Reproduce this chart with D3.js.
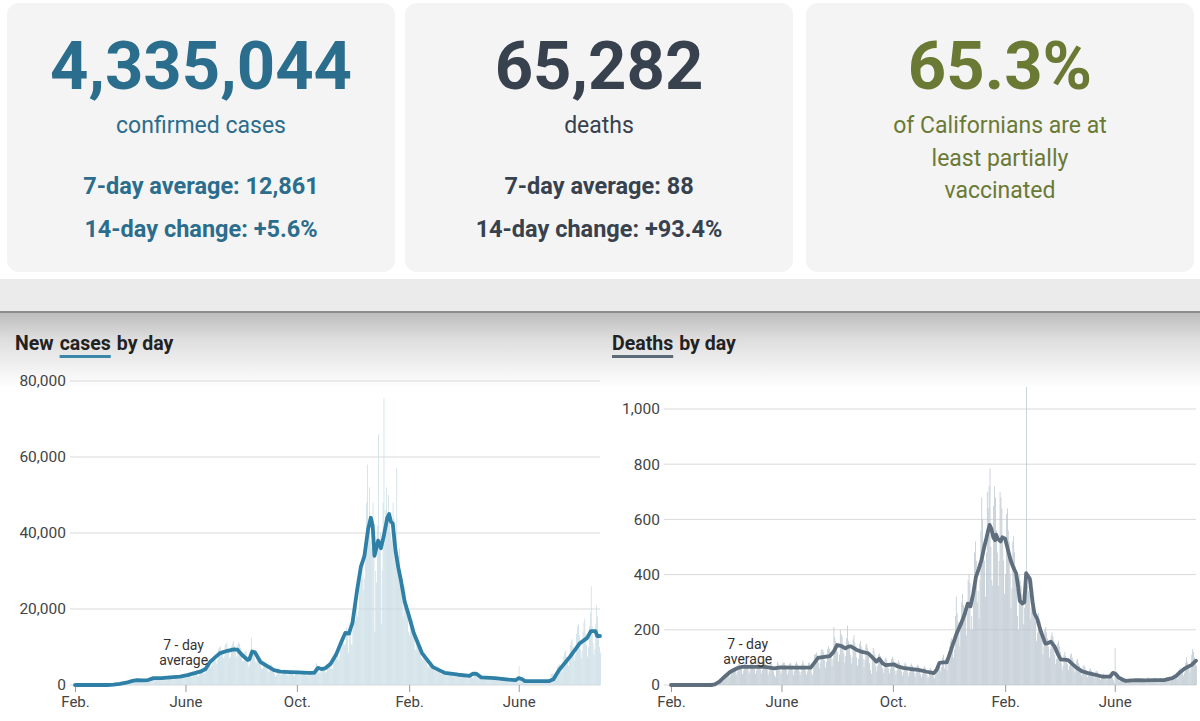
<!DOCTYPE html>
<html>
<head>
<meta charset="utf-8">
<script src="https://cdn.jsdelivr.net/npm/d3@7"></script>
<style>
  body { margin: 0; background: #fff; }
  svg { display: block; font-family: Roboto, "Open Sans", sans-serif; }
</style>
</head>
<body>
<div id="chart"></div>
<script>
// ---- summary cards ----
const cardBig = ["4,335,044", "65,282", "65.3%"];
const cardSub = [["confirmed cases"], ["deaths"], ["of Californians are at", "least partially", "vaccinated"]];
const cardStats = [["7-day average: 12,861", "14-day change: +5.6%"], ["7-day average: 88", "14-day change: +93.4%"], []];

// ---- x axis (days since Feb. 1, 2020) ----
const tickDays = [0, 121, 243, 366, 486];
const tickLabels = ["Feb.", "June", "Oct.", "Feb.", "June"];

// ---- new cases by day, in thousands (Feb. 1, 2020 -> Aug. 29, 2021) ----
const casesDaily = [
  0,0,0,0,0,0,0, 0,0,0,0,0,0,0, 0,0,0,0,0,0,0, 0,0,0,0,0,0,0,
  0,0,0,0,0,0,0, 0.01,0.02,0.02,0.03,0.05,0.05,0.06,
  0.08,0.06,0.1,0.13,0.15,0.17,0.15, 0.25,0.2,0.3,0.4,0.45,0.5,0.5,
  0.6,0.5,0.55,0.8,0.9,1.0,0.9, 1.1,0.9,0.8,1.2,1.3,1.3,1.2,
  1.3,1.0,1.0,1.4,1.5,1.6,1.4, 1.2,0.9,1.0,1.4,1.5,1.5,1.4,
  1.6,1.2,1.3,1.7,1.9,1.9,1.7, 1.7,1.4,1.3,1.9,2.0,2.2,1.9,
  1.7,1.3,1.2,1.8,1.9,2.2,1.8, 1.9,1.5,1.4,2.1,2.2,2.3,2.1,
  2.2,1.7,1.6,2.2,2.5,2.6,2.3, 2.5,1.9,1.8,2.7,2.9,2.8,2.6,
  2.8,2.1,2.0,3.0,3.2,3.3,3.0, 3.2,2.5,2.3,3.4,3.6,3.8,3.4,
  3.8,3.0,3.2,4.5,4.8,5.0,4.4, 5.9,4.5,5.0,6.8,7.2,6.9,6.3,
  6.5,5.5,6.8,9.5,9.8,10.2,8.6, 9.0,7.1,7.5,10.5,10.8,11.2,9.5,
  8.7,7.0,7.4,10.2,11.0,11.6,10.3, 9.2,7.3,7.6,10.6,11.2,10.9,9.8,
  8.4,6.4,6.2,8.5,8.8,9.1,7.6, 6.2,4.8,5.4,7.0,12.4,8.8,9.3,
  8.0,6.2,5.8,7.2,6.5,6.4,6.0, 5.6,4.4,4.3,5.8,6.1,5.9,5.5,
  4.7,3.8,3.6,5.0,5.4,5.3,4.8, 3.9,3.0,2.2,2.6,3.8,4.4,4.0,
  3.5,2.7,2.6,3.8,4.0,4.1,3.6, 3.4,2.7,2.5,3.6,3.9,3.9,3.5,
  3.3,2.6,2.4,3.5,3.8,3.8,3.4, 3.3,2.6,2.5,3.5,3.7,3.8,3.4,
  3.1,2.5,2.4,3.4,3.6,3.8,3.3, 3.2,2.6,2.6,3.8,4.6,5.8,4.4,
  4.2,3.2,3.3,4.5,4.8,5.0,4.6, 4.1,3.3,3.5,4.6,5.0,5.2,4.9,
  5.3,4.2,4.4,5.8,6.5,7.6,6.9, 8.0,6.5,7.2,9.3,9.8,11.0,10.8,
  13.5,10.5,11.0,15.2,14.0,8.5,13.0, 15.0,10.8,10.5,14.5,17.2,18.5,16.8,
  23.0,18.0,19.5,26.0,28.5,30.5,28.0, 32.5,25.0,28.0,36.0,48.0,58.0,40.0,
  52.0,38.0,36.0,40.0,48.0,38.0,14.0, 30.0,27.0,42.0,66.0,38.0,40.0,16.0,
  30.0,48.0,75.5,40.0,46.0,52.0,44.0, 50.0,44.0,40.0,38.0,42.0,48.0,44.0,
  40.0,35.0,57.0,30.0,34.0,36.0,28.0, 28.0,22.0,18.0,24.0,26.0,22.0,20.0,
  19.0,14.0,13.0,15.5,16.0,17.0,15.0, 13.0,9.5,9.0,12.0,11.5,10.5,10.0,
  9.0,7.0,6.5,7.5,8.0,8.5,7.5, 6.5,4.8,4.5,5.6,6.2,6.0,5.2,
  4.8,3.8,3.6,4.6,5.0,4.8,4.2, 4.0,3.0,2.9,3.8,4.0,3.9,3.5,
  3.4,2.6,2.5,3.2,3.5,3.4,3.0, 3.0,2.3,2.2,2.9,3.1,3.0,2.7,
  2.7,2.1,2.0,2.8,2.9,2.9,2.6, 2.6,1.9,1.8,2.6,2.8,2.8,2.5,
  2.4,1.9,1.9,2.6,3.5,3.8,3.2, 3.0,2.2,2.0,2.4,2.5,2.3,2.0,
  2.1,1.6,1.6,2.1,2.3,2.2,2.0, 1.9,1.5,1.4,2.0,2.1,2.1,1.9,
  1.8,1.4,1.3,1.9,2.0,2.0,1.8, 1.6,1.3,1.2,1.7,1.8,1.8,1.6,
  1.5,1.1,1.0,1.5,1.6,1.6,1.4, 1.3,1.0,0.6,5.0,1.9,1.6,1.4,
  1.2,0.9,0.8,1.2,1.3,1.3,1.1, 1.0,0.8,0.7,1.1,1.2,1.1,0.6,
  0.9,0.7,0.8,1.1,1.2,1.2,1.0, 1.0,0.8,0.8,1.2,1.3,1.3,1.1,
  0.8,0.5,0.6,2.8,3.0,3.2,2.6, 2.8,2.0,2.5,4.8,5.2,5.5,4.6,
  4.5,3.5,4.5,7.5,8.5,9.0,7.5, 6.5,5.0,6.5,10.5,11.5,12.0,10.0,
  8.5,6.5,8.0,13.5,15.5,16.0,13.0, 9.5,7.0,9.0,14.0,16.5,17.5,13.5,
  10.5,7.5,10.0,15.5,19.0,26.0,15.5, 11.0,8.0,9.5,16.0,21.0,18.0,13.0,
  10.0,8.5
];

// 7-day average of cases (thousands), read at key days
const casesAvgDay = [0,35,42,49,56,63,68,75,80,86,95,104,115,123,137,143,148,154,159,167,174,178,183,189,191,194,197,203,211,218,225,235,245,255,262,266,270,274,280,286,292,296,300,304,309,313,317,321,324,326,328,330,332,335,338,342,344,346,348,351,354,357,361,366,371,380,392,405,420,432,436,440,445,460,475,483,486,490,493,519,524,530,542,553,561,565,570,572,575];
const casesAvg = [0,0,0.1,0.3,0.6,1.1,1.3,1.2,1.3,1.8,1.8,2.0,2.2,2.6,3.5,4.2,6.1,7.4,8.4,9.0,9.4,9.3,7.9,6.6,6.8,8.8,8.6,6.1,4.9,3.9,3.5,3.4,3.3,3.2,3.2,4.5,4.2,4.4,5.6,8.0,11.5,13.7,13.5,16.5,25.0,31.0,34.0,41.0,44.0,42.0,34.0,36.0,38.0,36.0,39.0,44.0,45.0,43.0,42.5,35.5,31.0,27.5,22.0,18.0,13.7,8.4,4.7,3.2,2.7,2.4,3.0,2.9,2.0,1.8,1.4,1.3,1.8,1.5,1.0,1.0,1.5,3.9,7.4,11.0,12.4,14.2,14.2,12.9,12.9];

// ---- deaths by day (Feb. 1, 2020 -> Aug. 29, 2021) ----
const deathsDaily = [
  0,0,0,0,0,0,0, 0,0,0,0,0,0,0, 0,0,0,0,0,0,0, 0,0,0,0,0,0,0,
  0,0,0,0,0,0,0, 0,0,0,0,0,0,0,
  0,1,1,1,2,2,3, 4,3,6,10,9,12,13,
  18,14,20,30,32,35,33, 40,28,35,55,60,58,56,
  52,38,48,72,78,75,70, 58,40,52,78,82,80,72,
  60,42,50,80,84,78,70, 58,40,52,82,85,80,68,
  55,42,55,78,90,76,70, 56,38,50,75,80,76,62,
  50,36,30,70,85,78,68, 52,40,52,78,82,80,72,
  54,38,50,76,80,78,66, 52,36,52,78,84,76,64,
  50,36,48,75,88,80,70, 52,38,50,80,82,74,62,
  40,36,70,110,112,118,108, 82,60,80,125,130,128,118,
  90,62,84,130,140,132,120, 100,70,95,210,175,160,150,
  120,85,110,200,185,175,150, 115,80,105,170,215,160,145,
  110,78,100,165,180,155,140, 100,70,95,150,160,140,130,
  95,65,92,145,150,135,120, 80,55,40,110,135,125,110,
  70,50,68,110,115,105,95, 62,44,58,95,100,92,80,
  60,42,60,95,102,95,82, 52,38,52,82,90,80,72,
  50,34,48,75,82,75,62, 46,32,46,72,78,70,60,
  44,30,44,70,75,68,55, 40,28,40,62,70,62,50,
  36,25,30,55,62,55,50, 35,24,35,60,70,80,85,
  70,50,65,100,110,60,95, 75,55,80,120,140,160,170,
  140,100,130,250,320,260,230, 200,140,200,300,330,290,280,
  250,180,260,380,400,370,200, 250,200,350,480,520,450,300,
  340,240,380,560,680,600,500, 450,320,480,700,640,720,785,
  500,380,360,650,720,680,560, 480,360,450,700,680,640,520,
  450,330,400,620,640,560,520, 400,280,350,520,540,480,430,
  350,250,200,400,380,360,330, 300,220,280,360,1080,360,340,
  330,240,280,380,350,320,300, 230,160,190,260,240,230,200,
  160,110,140,200,210,190,170, 140,100,130,180,190,175,160,
  110,75,95,150,160,140,120, 80,55,70,110,120,105,95,
  75,55,70,110,115,100,90, 60,45,55,90,95,80,70,
  48,35,42,70,72,65,55, 40,28,35,56,60,52,45,
  34,25,30,50,52,48,40, 28,20,25,40,42,38,32,
  26,18,22,38,40,36,30, 25,18,10,135,50,40,30,
  20,14,18,28,30,26,20, 14,10,12,20,22,20,14,
  15,10,14,22,24,20,16, 16,12,14,22,25,22,18,
  12,8,10,24,28,26,20, 15,10,14,22,26,22,18,
  15,10,15,24,26,22,18, 16,11,16,26,30,25,20,
  20,14,20,34,38,32,26, 32,22,30,52,60,55,45,
  48,34,45,80,100,85,70, 65,45,60,110,130,120,100,
  90,70
];

// 7-day average of deaths, read at key days
const deathsAvgDay = [0,44,48,53,58,65,72,78,90,103,113,120,135,153,157,161,168,174,178,182,186,191,195,197,203,208,216,222,225,228,232,235,244,248,254,262,271,280,288,291,294,298,302,305,309,313,318,322,325,328,331,334,337,340,343,345,347,349,351,353,355,356,358,361,363,366,369,372,375,378,380,382,385,387,389,391,393,396,398,401,405,410,413,416,420,424,427,431,435,440,444,450,456,465,473,481,484,487,490,494,498,505,511,520,530,540,549,553,557,562,566,570,575];
const deathsAvg = [0,0,2,12,28,48,60,66,66,66,60,64,63,63,80,98,102,105,120,145,142,133,140,140,128,121,115,95,85,95,78,72,75,68,62,58,55,48,43,55,80,82,82,110,150,188,225,260,295,285,330,392,420,452,500,525,555,580,565,535,525,545,530,520,535,530,490,452,425,405,360,305,295,300,405,395,385,300,260,240,195,150,152,157,140,110,92,92,90,75,63,50,44,37,30,30,44,40,28,20,15,17,18,17,18,18,25,32,45,58,66,72,88];

const W = 1200, H = 721;
const svg = d3.select("#chart").append("svg").attr("width", W).attr("height", H);
svg.append("rect").attr("width", W).attr("height", H).attr("fill", "#fff");

// ---- cards ----
const cardX = [7, 405, 806], cardW = 388;
const cardColor = ["#2b6d8c", "#37424e", "#6a7a35"];
cardX.forEach((cx, i) => {
  const mid = cx + cardW / 2;
  svg.append("rect").attr("x", cx).attr("y", 3).attr("width", cardW).attr("height", 269)
    .attr("rx", 12).attr("fill", "#f5f4f4");
  svg.append("text").attr("x", mid).attr("y", 89).attr("text-anchor", "middle")
    .attr("font-size", 67).attr("font-weight", 700).attr("fill", cardColor[i])
    .text(cardBig[i]);
  const subBase = [133, 166, 198];
  cardSub[i].forEach((t, j) => {
    svg.append("text").attr("x", mid).attr("y", subBase[j]).attr("text-anchor", "middle")
      .attr("font-size", 23).attr("fill", cardColor[i]).text(t);
  });
  const statBase = [194, 237];
  cardStats[i].forEach((t, j) => {
    svg.append("text").attr("x", mid).attr("y", statBase[j]).attr("text-anchor", "middle")
      .attr("font-size", 23.5).attr("font-weight", 700).attr("fill", cardColor[i]).text(t);
  });
});

// grey band + shadow under the cards
const defs = svg.append("defs");
const grad = defs.append("linearGradient").attr("id", "shade").attr("x1", 0).attr("x2", 0).attr("y1", 0).attr("y2", 1);
grad.append("stop").attr("offset", "0%").attr("stop-color", "#bdbdbd");
grad.append("stop").attr("offset", "35%").attr("stop-color", "#dedede");
grad.append("stop").attr("offset", "100%").attr("stop-color", "#ffffff");
svg.append("rect").attr("x", 0).attr("y", 279).attr("width", W).attr("height", 32).attr("fill", "#ebebeb");
svg.append("rect").attr("x", 0).attr("y", 313).attr("width", W).attr("height", 75).attr("fill", "url(#shade)");
svg.append("line").attr("x1", 0).attr("x2", W).attr("y1", 312).attr("y2", 312)
  .attr("stroke", "#8c8c8c").attr("stroke-width", 2);

// ---- panels ----
const start = new Date(Date.UTC(2020, 1, 1));
const dayDate = d => d3.utcDay.offset(start, d);

function title(x, words, underlined, color) {
  const t = svg.append("g");
  let cx = x;
  words.forEach((w, i) => {
    const el = t.append("text").attr("x", cx).attr("y", 350)
      .attr("font-size", 19.5).attr("font-weight", 700).attr("fill", "#222").text(w);
    const len = el.node().getComputedTextLength();
    if (i === underlined) {
      t.append("rect").attr("x", cx).attr("y", 355).attr("width", len).attr("height", 3).attr("fill", color);
    }
    cx += len + 6;
  });
}

function panel(cfg) {
  const x = d3.scaleUtc().domain([dayDate(0), dayDate(575)]).range([cfg.x0, cfg.x1]);
  const y = d3.scaleLinear().domain([0, cfg.yMax]).range([685, cfg.yTop]);
  const g = svg.append("g");

  g.append("g").selectAll("line").data(cfg.yTicks).join("line")
    .attr("x1", cfg.gx0).attr("x2", cfg.gx1)
    .attr("y1", d => y(d)).attr("y2", d => y(d))
    .attr("stroke", "#d9d9d9").attr("stroke-width", 1);

  const ya = g.append("g").attr("transform", `translate(${cfg.gx0 - 4},0)`)
    .call(d3.axisLeft(y).tickValues(cfg.yTicks).tickSize(0).tickPadding(0).tickFormat(cfg.yFmt));
  ya.select(".domain").remove();
  ya.selectAll("text").attr("font-size", 15.5).attr("fill", "#444").attr("font-family", "Roboto");

  g.append("g").selectAll("rect").data(cfg.daily).join("rect")
    .attr("x", (d, i) => x(dayDate(i)))
    .attr("width", (d, i) => Math.max(0.4, x(dayDate(i + 1)) - x(dayDate(i)) - 0.2))
    .attr("y", d => y(d))
    .attr("height", d => 685 - y(d))
    .attr("fill", cfg.barColor);

  const xa = g.append("g").attr("transform", "translate(0,685)")
    .call(d3.axisBottom(x).tickValues(tickDays.map(dayDate)).tickSize(7).tickPadding(4)
      .tickFormat((d, i) => tickLabels[i]));
  xa.select(".domain").remove();
  xa.selectAll("line").attr("stroke", "#999");
  xa.selectAll("text").attr("font-size", 15).attr("fill", "#444").attr("font-family", "Roboto");

  const line = d3.line().x(d => x(dayDate(d[0]))).y(d => y(d[1]));
  g.append("path").datum(d3.zip(cfg.avgDay, cfg.avg))
    .attr("d", line).attr("fill", "none").attr("stroke", cfg.lineColor)
    .attr("stroke-width", 3.8).attr("stroke-linejoin", "round").attr("stroke-linecap", "round");

  const nx = x(dayDate(cfg.noteDay)), ny = y(cfg.noteVal);
  g.append("text").attr("text-anchor", "middle").attr("font-size", 14).attr("fill", "#333")
    .attr("x", nx).attr("y", ny - 1).text("7 - day");
  g.append("text").attr("text-anchor", "middle").attr("font-size", 14).attr("fill", "#333")
    .attr("x", nx).attr("y", ny + 14).text("average");
}

title(15, ["New", "cases", "by day"], 1, "#3a87a9");
title(612, ["Deaths", "by day"], 0, "#5d6b78");

panel({
  x0: 75, x1: 600, gx0: 70, gx1: 600, yMax: 80, yTop: 381,
  yTicks: [0, 20, 40, 60, 80], yFmt: d => d3.format(",")(d * 1000),
  daily: casesDaily, avgDay: casesAvgDay, avg: casesAvg,
  barColor: "#c6dbe3", lineColor: "#2f80a6", noteDay: 119, noteVal: 9
});

panel({
  x0: 671, x1: 1196, gx0: 664, gx1: 1196, yMax: 1000, yTop: 409,
  yTicks: [0, 200, 400, 600, 800, 1000], yFmt: d3.format(","),
  daily: deathsDaily, avgDay: deathsAvgDay, avg: deathsAvg,
  barColor: "#b8c4cd", lineColor: "#5e6e7d", noteDay: 84, noteVal: 127
});
</script>
</body>
</html>
